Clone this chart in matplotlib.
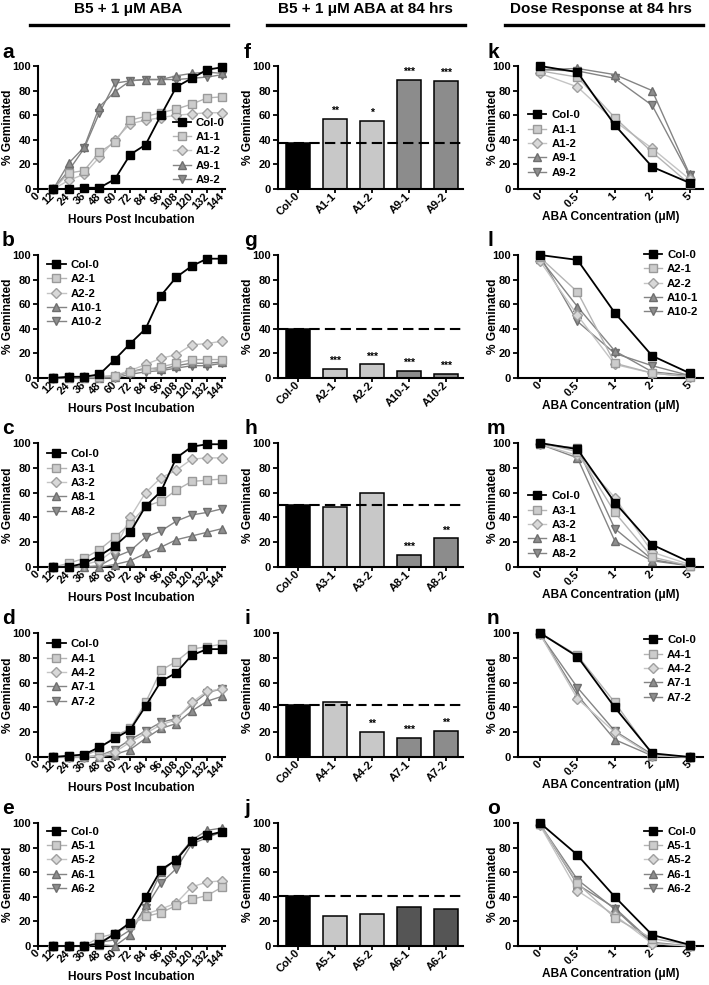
import matplotlib
matplotlib.use("Agg")
import matplotlib.pyplot as plt
from matplotlib.lines import Line2D

plt.rcParams['font.family'] = ['Liberation Sans', 'DejaVu Sans']
plt.rcParams['font.weight'] = 'bold'

# ---------------- data ----------------
hours = [12, 24, 36, 48, 60, 72, 84, 96, 108, 120, 132, 144]
hour_ticks = [0, 12, 24, 36, 48, 60, 72, 84, 96, 108, 120, 132, 144]
doses = ['0', '0.5', '1', '2', '5']

# time courses (rows a-e)
a_labels = ['Col-0', 'A1-1', 'A1-2', 'A9-1', 'A9-2']
a_col0 = [0, 0, 1, 1, 8, 28, 36, 60, 83, 90, 97, 99]
a_s1 = [0, 13, 15, 30, 38, 56, 59, 62, 65, 69, 74, 75]
a_s2 = [0, 7, 12, 26, 40, 53, 56, 58, 60, 61, 62, 62]
a_s3 = [0, 21, 34, 67, 79, 88, 89, 89, 92, 94, 95, 94]
a_s4 = [0, 15, 33, 62, 86, 88, 89, 89, 89, 90, 91, 93]

b_labels = ['Col-0', 'A2-1', 'A2-2', 'A10-1', 'A10-2']
b_col0 = [0, 1, 1, 3, 15, 28, 40, 67, 82, 91, 97, 97]
b_s1 = [0, 1, 1, 1, 2, 5, 7, 9, 12, 15, 15, 15]
b_s2 = [0, 1, 1, 1, 2, 6, 11, 16, 19, 27, 28, 30]
b_s3 = [0, 0, 0, 0, 1, 5, 8, 7, 10, 12, 12, 13]
b_s4 = [0, 0, 0, 0, 0, 3, 5, 6, 8, 10, 10, 12]

c_labels = ['Col-0', 'A3-1', 'A3-2', 'A8-1', 'A8-2']
c_col0 = [0, 0, 3, 9, 17, 28, 49, 61, 88, 97, 99, 99]
c_s1 = [0, 3, 7, 14, 24, 35, 49, 53, 62, 69, 70, 71]
c_s2 = [0, 1, 2, 5, 14, 40, 60, 72, 78, 87, 88, 88]
c_s3 = [0, 0, 0, 0, 2, 5, 11, 16, 22, 25, 28, 31]
c_s4 = [0, 0, 0, 1, 8, 13, 24, 29, 37, 42, 44, 47]

d_labels = ['Col-0', 'A4-1', 'A4-2', 'A7-1', 'A7-2']
d_col0 = [0, 1, 2, 8, 15, 22, 41, 61, 68, 82, 87, 87]
d_s1 = [0, 1, 1, 6, 17, 23, 44, 70, 77, 87, 89, 91]
d_s2 = [0, 0, 0, 1, 4, 12, 19, 26, 30, 44, 53, 55]
d_s3 = [0, 0, 0, 0, 2, 6, 15, 23, 27, 37, 45, 49]
d_s4 = [0, 0, 0, 1, 6, 14, 21, 28, 31, 42, 52, 55]

e_labels = ['Col-0', 'A5-1', 'A5-2', 'A6-1', 'A6-2']
e_col0 = [0, 0, 0, 2, 10, 19, 40, 62, 70, 85, 90, 93]
e_s1 = [0, 0, 0, 7, 10, 17, 24, 27, 33, 38, 41, 48]
e_s2 = [0, 0, 0, 3, 10, 17, 26, 30, 35, 48, 52, 53]
e_s3 = [0, 0, 0, 1, 0, 9, 33, 60, 71, 86, 94, 96]
e_s4 = [0, 0, 0, 3, 5, 13, 31, 51, 63, 83, 88, 93]

# bars at 84 hrs (f-j)
f_vals = [37, 57, 55, 89, 88]
f_stars = ['', '**', '*', '***', '***']
g_vals = [40, 7, 11, 6, 3]
g_stars = ['', '***', '***', '***', '***']
h_vals = [50, 48, 60, 10, 23]
h_stars = ['', '', '', '***', '**']
i_vals = [42, 44, 20, 15, 21]
i_stars = ['', '', '**', '***', '**']
j_vals = [41, 24, 26, 32, 30]
j_stars = ['', '', '', '', '']

# dose response (k-o)
k_col0 = [100, 95, 52, 18, 5]
k_s1 = [96, 91, 58, 30, 4]
k_s2 = [94, 83, 55, 33, 8]
k_s3 = [97, 98, 93, 80, 12]
k_s4 = [97, 96, 90, 68, 11]

l_col0 = [100, 96, 53, 18, 4]
l_s1 = [98, 70, 12, 4, 1]
l_s2 = [95, 51, 11, 4, 1]
l_s3 = [97, 58, 22, 5, 2]
l_s4 = [99, 46, 20, 10, 2]

m_col0 = [100, 95, 52, 18, 4]
m_s1 = [100, 93, 44, 8, 1]
m_s2 = [99, 90, 56, 12, 2]
m_s3 = [99, 88, 21, 5, 1]
m_s4 = [99, 96, 31, 6, 1]

n_col0 = [100, 81, 40, 3, 0]
n_s1 = [100, 82, 44, 2, 0]
n_s2 = [99, 47, 20, 1, 0]
n_s3 = [99, 50, 14, 1, 0]
n_s4 = [99, 56, 21, 2, 0]

o_col0 = [100, 74, 40, 9, 1]
o_s1 = [99, 51, 23, 6, 1]
o_s2 = [98, 45, 25, 2, 0]
o_s3 = [99, 50, 31, 3, 0]
o_s4 = [99, 54, 30, 2, 0]

# ---------------- styles ----------------
STY = [
    dict(color='black', marker='s', mfc='black', mec='black', ms=5.8, lw=1.3),
    dict(color='#b4b4b4', marker='s', mfc='#cccccc', mec='#9a9a9a', ms=5.8, lw=1.0),
    dict(color='#c4c4c4', marker='D', mfc='#d8d8d8', mec='#a0a0a0', ms=4.6, lw=1.0),
    dict(color='#848484', marker='^', mfc='#8e8e8e', mec='#6e6e6e', ms=6.2, lw=1.0),
    dict(color='#848484', marker='v', mfc='#8e8e8e', mec='#6e6e6e', ms=6.2, lw=1.0),
]

FS = 8.0
LFS = 8.2
LABFS = 8.6
W, H = 709, 985
fig = plt.figure(figsize=(W / 100, H / 100), dpi=100)

rows = [(66, 189), (255, 378), (443, 567), (633, 757), (823, 946)]
cols = [(38, 187), (278, 185), (518, 185)]
ylab_off = [30, 30, 25]     # ylabel centre distance left of the y axis (px)
xlab_off = [31, 0, 28]      # xlabel centre distance below the x axis (px)


def make_ax(ci, ri):
    x0, w = cols[ci]
    t, b = rows[ri]
    return fig.add_axes([x0 / W, 1 - b / H, w / W, (b - t) / H])


def style(ax, ci, ri):
    for s in ['top', 'right']:
        ax.spines[s].set_visible(False)
    for s in ['left', 'bottom']:
        ax.spines[s].set_linewidth(1.5)
    ax.tick_params(direction='out', length=3.5, width=1.3, labelsize=FS, pad=1.5)
    ax.tick_params(axis='x', length=3, pad=1.0)
    ax.set_ylim(0, 100)
    ax.set_yticks([0, 20, 40, 60, 80, 100])
    for lab in ax.get_yticklabels():
        lab.set_fontweight('bold')
    ax.set_ylabel('% Geminated', fontsize=LABFS, fontweight='bold')
    ax.yaxis.set_label_coords(-ylab_off[ci] / cols[ci][1], 0.5)
    ax.yaxis.label.set_va('center')


def set_xlabel(ax, text, ci, ri):
    t, b = rows[ri]
    ax.set_xlabel(text, fontsize=LABFS, fontweight='bold')
    ax.xaxis.set_label_coords(0.5, -xlab_off[ci] / (b - t))
    ax.xaxis.label.set_va('center')


def rot_labels(ax):
    for lab in ax.get_xticklabels():
        lab.set_rotation(45)
        lab.set_ha('right')
        lab.set_va('center')
        lab.set_rotation_mode('anchor')
        lab.set_fontweight('bold')


def legend(ax, labels, x, y):
    handles = [Line2D([], [], **STY[i]) for i in range(5)]
    ax.legend(handles, labels, loc='upper left', bbox_to_anchor=(x, y),
              frameon=False, handlelength=1.6, handletextpad=0.45,
              labelspacing=0.38, borderpad=0, borderaxespad=0,
              prop=dict(weight='bold', size=LFS))


time_sets = [
    (a_labels, [a_col0, a_s1, a_s2, a_s3, a_s4], (0.72, 0.58)),
    (b_labels, [b_col0, b_s1, b_s2, b_s3, b_s4], (0.05, 0.96)),
    (c_labels, [c_col0, c_s1, c_s2, c_s3, c_s4], (0.05, 0.95)),
    (d_labels, [d_col0, d_s1, d_s2, d_s3, d_s4], (0.05, 0.95)),
    (e_labels, [e_col0, e_s1, e_s2, e_s3, e_s4], (0.05, 0.97)),
]
bar_sets = [
    (a_labels, f_vals, f_stars, '#8c8c8c'),
    (b_labels, g_vals, g_stars, '#8c8c8c'),
    (c_labels, h_vals, h_stars, '#8c8c8c'),
    (d_labels, i_vals, i_stars, '#8c8c8c'),
    (e_labels, j_vals, j_stars, '#555555'),
]
dose_sets = [
    (a_labels, [k_col0, k_s1, k_s2, k_s3, k_s4], (0.054, 0.64)),
    (b_labels, [l_col0, l_s1, l_s2, l_s3, l_s4], (0.68, 1.04)),
    (c_labels, [m_col0, m_s1, m_s2, m_s3, m_s4], (0.054, 0.61)),
    (d_labels, [n_col0, n_s1, n_s2, n_s3, n_s4], (0.68, 0.98)),
    (e_labels, [o_col0, o_s1, o_s2, o_s3, o_s4], (0.68, 0.97)),
]
letters = [['a', 'b', 'c', 'd', 'e'], ['f', 'g', 'h', 'i', 'j'], ['k', 'l', 'm', 'n', 'o']]

for ri in range(5):
    # ---- time course ----
    ax = make_ax(0, ri)
    labels, series, lpos = time_sets[ri]
    for i in range(4, -1, -1):
        ax.plot(hours, series[i], clip_on=False, zorder=4 if i == 0 else 3, **STY[i])
    ax.set_xlim(0, 146)
    ax.set_xticks(hour_ticks)
    ax.set_xticklabels([str(h) for h in hour_ticks])
    style(ax, 0, ri)
    rot_labels(ax)
    set_xlabel(ax, 'Hours Post Incubation', 0, ri)
    legend(ax, labels, *lpos)

    # ---- bars ----
    ax = make_ax(1, ri)
    labels, vals, stars, dark = bar_sets[ri]
    colors = ['black', '#c8c8c8', '#c8c8c8', dark, dark]
    xs = list(range(len(vals)))
    ax.bar(xs, vals, width=0.65, color=colors, edgecolor='black', linewidth=1.1, zorder=2)
    ax.axhline(vals[0], color='black', ls=(0, (5, 2.5)), lw=1.5, zorder=3)
    for x, v, s in zip(xs, vals, stars):
        if s:
            ax.text(x, v + 2.5, s, ha='center', va='bottom', fontsize=7.5, fontweight='bold')
    ax.set_xlim(-0.54, 4.46)
    ax.set_xticks(xs)
    ax.set_xticklabels(labels)
    style(ax, 1, ri)
    rot_labels(ax)

    # ---- dose response ----
    ax = make_ax(2, ri)
    labels, series, lpos = dose_sets[ri]
    xs = list(range(len(doses)))
    for i in range(4, -1, -1):
        ax.plot(xs, series[i], clip_on=False, zorder=4 if i == 0 else 3, **STY[i])
    ax.set_xlim(-0.59, 4.36)
    ax.set_xticks(xs)
    ax.set_xticklabels(doses)
    style(ax, 2, ri)
    rot_labels(ax)
    set_xlabel(ax, 'ABA Concentration (\u03bcM)', 2, ri)
    legend(ax, labels, *lpos)

# panel letters
letter_x = [2, 244, 487]
for ci in range(3):
    for ri in range(5):
        t, b = rows[ri]
        fig.text(letter_x[ci] / W, 1 - (t - 14) / H, letters[ci][ri], fontsize=15,
                 fontweight='bold', ha='left', va='center')

# column titles with underline
titles = ['B5 + 1 \u03bcM ABA', 'B5 + 1 \u03bcM ABA at 84 hrs', 'Dose Response at 84 hrs']
tcx = [128, 365, 601]
lines_x = [(30, 228), (267, 465), (505, 703)]
for t, cx, (l0, l1) in zip(titles, tcx, lines_x):
    fig.text(cx / W, 1 - 9 / H, t, fontsize=11, fontweight='bold', ha='center', va='center')
    fig.add_artist(Line2D([l0 / W, l1 / W], [1 - 25 / H, 1 - 25 / H], color='black', lw=2.4))

fig.savefig('out.png', dpi=100)
